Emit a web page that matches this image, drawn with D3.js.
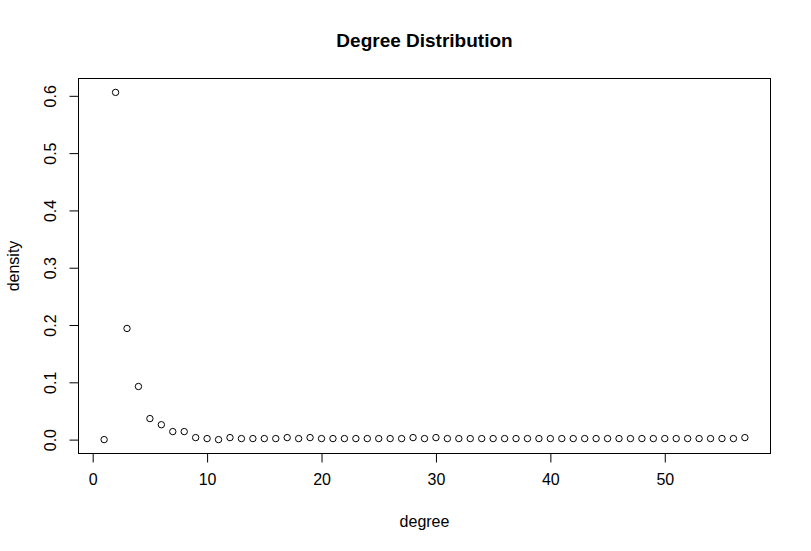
<!DOCTYPE html>
<html>
<head>
<meta charset="utf-8">
<script src="https://cdn.jsdelivr.net/npm/d3@7"></script>
<style>
  html, body { margin: 0; padding: 0; background: #fff; }
  svg { display: block; }
  text { font-family: "Liberation Sans", Arial, sans-serif; fill: #000; }
</style>
</head>
<body>
<script>
// ---- data ----
const degrees = d3.range(1, 58); // 1..57
const density = [
  0, 0.606, 0.194, 0.0927, 0.0367, 0.026, 0.014, 0.014, 0.0035, 0.0018,
  0, 0.0035, 0.0018, 0.0018, 0.0018, 0.0018, 0.0035, 0.0018, 0.0035, 0.0018,
  0.0018, 0.0018, 0.0018, 0.0018, 0.0018, 0.0018, 0.0018, 0.0035, 0.0018, 0.0035,
  0.0018, 0.0018, 0.0018, 0.0018, 0.0018, 0.0018, 0.0018, 0.0018, 0.0018, 0.0018,
  0.0018, 0.0018, 0.0018, 0.0018, 0.0018, 0.0018, 0.0018, 0.0018, 0.0018, 0.0018,
  0.0018, 0.0018, 0.0018, 0.0018, 0.0018, 0.0018, 0.0035
];
const xTicks = [0, 10, 20, 30, 40, 50];
const yTicks = [0.0, 0.1, 0.2, 0.3, 0.4, 0.5, 0.6];
const titleText = "Degree Distribution";
const xLabel = "degree";
const yLabel = "density";

// ---- layout ----
const W = 811, H = 551;
const box = { left: 78.5, right: 770.5, top: 78.5, bottom: 453.5 };

const svg = d3.select("body").append("svg").attr("width", W).attr("height", H);

// R-style 4% extension
const xmin = d3.min(degrees), xmax = d3.max(degrees);
const xr = xmax - xmin;
const x = d3.scaleLinear().domain([xmin - 0.04 * xr, xmax + 0.04 * xr]).range([box.left, box.right]);
const ymin = d3.min(density), ymax = d3.max(density);
const yr = ymax - ymin;
const y = d3.scaleLinear().domain([ymin - 0.04 * yr, ymax + 0.04 * yr]).range([box.bottom, box.top]);

// box
svg.append("rect")
  .attr("x", box.left).attr("y", box.top)
  .attr("width", box.right - box.left).attr("height", box.bottom - box.top)
  .attr("fill", "none").attr("stroke", "#000").attr("stroke-width", 1);

// x axis
const xAxis = d3.axisBottom(x).tickValues(xTicks).tickSize(9).tickPadding(11).tickFormat(d3.format("d"));
const gx = svg.append("g").attr("transform", `translate(0,${box.bottom})`).call(xAxis);
gx.select(".domain").attr("d", `M${x(xTicks[0])},0H${x(xTicks[xTicks.length - 1])}`).attr("stroke", "#000");
gx.selectAll(".tick line").attr("stroke", "#000");
gx.selectAll("text").style("font-size", "16px").style("font-family", "Liberation Sans, Arial, sans-serif").attr("fill", "#000");

// y axis
const yAxis = d3.axisLeft(y).tickValues(yTicks).tickSize(9).tickPadding(0).tickFormat(d3.format(".1f"));
const gy = svg.append("g").attr("transform", `translate(${box.left},0)`).call(yAxis);
gy.select(".domain").attr("d", `M0,${y(yTicks[0])}V${y(yTicks[yTicks.length - 1])}`).attr("stroke", "#000");
gy.selectAll(".tick line").attr("stroke", "#000");
gy.selectAll(".tick text")
  .attr("x", 0).attr("dy", null)
  .attr("text-anchor", "middle")
  .attr("transform", "translate(-23,0) rotate(-90)")
  .attr("y", 0)
  .style("font-size", "16px").style("font-family", "Liberation Sans, Arial, sans-serif").attr("fill", "#000");

// points
svg.append("g").selectAll("circle")
  .data(degrees.map((d, i) => [d, density[i]]))
  .join("circle")
  .attr("cx", d => x(d[0])).attr("cy", d => y(d[1]))
  .attr("r", 3.2)
  .attr("fill", "none").attr("stroke", "#000").attr("stroke-width", 1);

// title
svg.append("text")
  .attr("x", (box.left + box.right) / 2).attr("y", 47)
  .attr("text-anchor", "middle")
  .style("font-size", "19px").style("font-weight", "bold")
  .text(titleText);

// axis labels
svg.append("text")
  .attr("x", (box.left + box.right) / 2).attr("y", 527)
  .attr("text-anchor", "middle")
  .style("font-size", "16px")
  .text(xLabel);

svg.append("text")
  .attr("transform", `translate(19,${(box.top + box.bottom) / 2}) rotate(-90)`)
  .attr("text-anchor", "middle")
  .style("font-size", "16px")
  .text(yLabel);
</script>
</body>
</html>
